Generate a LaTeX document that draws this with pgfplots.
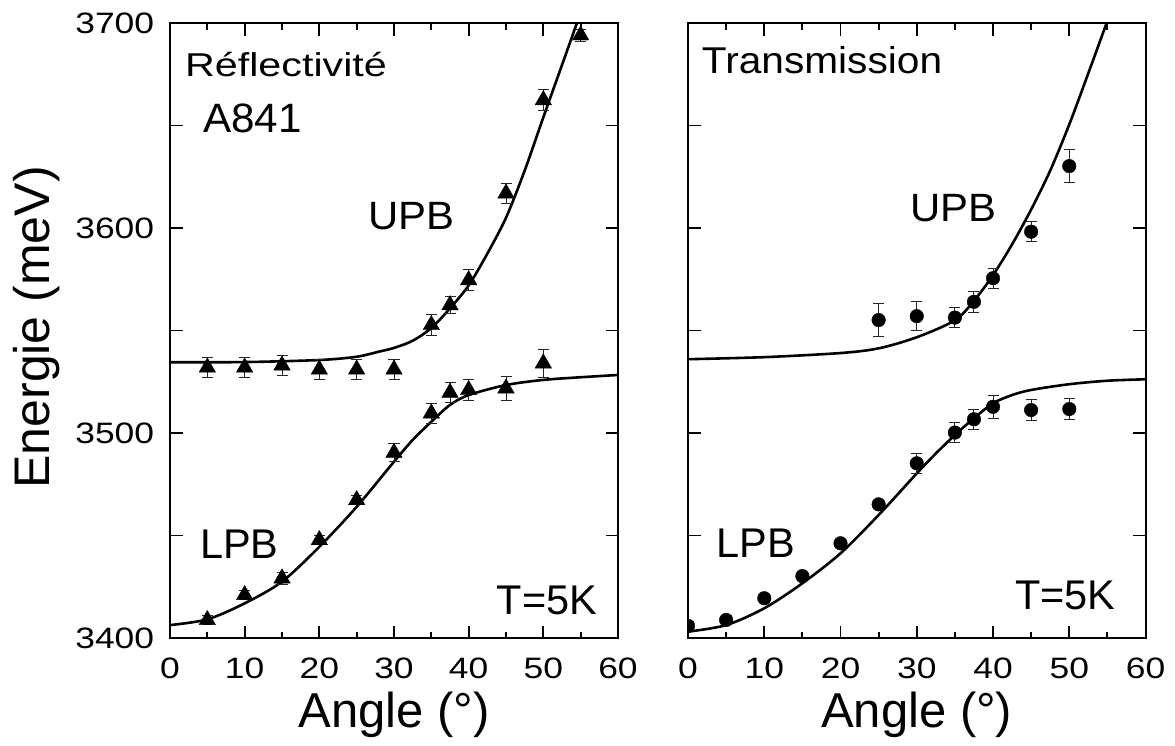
\documentclass[border=0pt]{standalone}
\usepackage{graphicx}
\usepackage{fontspec}
\setmainfont{Liberation Sans}
\usepackage{pgfplots}
\usepackage{pgfplotstable}
\pgfplotsset{compat=1.18}

\newcommand{\tl}[1]{\scalebox{1.2}[1]{#1}}
\newcommand{\fs}[1]{\fontsize{#1}{#1}\selectfont}

% Left panel (Reflectivite): data points
\pgfplotstableread{
x y e
5 3532 5
10 3532 5
15 3533 5
20 3531 5
25 3531 5
30 3531 5
35 3552.7 5
37.5 3562.4 4
40 3574.6 5
45 3616.9 5
50 3662.4 5
55 3694 3
}\LUPB
\pgfplotstableread{
x y e
5 3408.8 2
10 3421 2
15 3429.1 3
20 3447.8 2
25 3467.3 2
30 3490.4 4.5
35 3509.6 5
37.5 3519.7 5
40 3521 5
45 3521.8 6
50 3534 7
}\LLPB
% Left panel fitted curves
\pgfplotstableread{
x y
0 3534.5
10 3534.6
20 3535.6
25 3537.2
28 3539.7
30 3541.5
32.5 3545
35 3551.2
37.5 3560.8
40 3572
42.5 3587.5
45 3605
47.5 3628
50 3654
52.5 3679.5
54.5 3700
}\LUPBfit
\pgfplotstableread{
x y
0 3406.3
5 3409.1
10 3416.9
15 3427.5
20 3444.5
25 3464
30 3486
32.5 3496.6
35 3505.5
37.5 3513.7
40 3518.5
45 3523.4
50 3525.9
55 3527.2
60 3528.3
}\LLPBfit
% Right panel (Transmission): data points
\pgfplotstableread{
x y e
25 3555.1 8
30 3557 7
35 3556.3 5
37.5 3564 5
40 3575.5 5
45 3598.2 5
50 3630.2 8
}\RUPB
\pgfplotstableread{
x y e
0 3405.9 2
5 3408.8 2
10 3419.4 2
15 3430.2 2
20 3446.2 2
25 3465.2 2
30 3485.2 5
35 3500.2 5
37.5 3506.7 5
40 3512.8 5.5
45 3511.2 5
50 3511.7 5
}\RLPB
% Right panel fitted curves
\pgfplotstableread{
x y
0 3536
10 3537
20 3539
25 3541.3
30 3546.7
35 3555
37.5 3564.5
40 3577
42.5 3592
45 3609
47.5 3628
50 3650.5
52.5 3675.5
54.9 3700
}\RUPBfit
\pgfplotstableread{
x y
0 3403.1
5 3406.3
10 3414.5
15 3426.7
20 3441.3
25 3460
30 3480.3
32.5 3490
35 3499
37.5 3507.2
40 3514.5
42.5 3518.5
45 3521
50 3523.8
55 3525.5
60 3526.2
}\RLPBfit

\pgfplotsset{
  panel/.style={
    scale only axis,
    height=615pt,
    anchor=south west,
    xmin=0, xmax=60, ymin=3400, ymax=3700,
    xtick={0,10,...,60}, minor x tick num=1,
    ytick={3400,3450,...,3700},
    xticklabels={\tl{0},\tl{10},\tl{20},\tl{30},\tl{40},\tl{50},\tl{60}},
    tick align=inside,
    major tick length=12.5pt, minor tick length=6.5pt,
    axis line style={line width=2pt, black},
    tick style={line width=1.8pt, black},
    tick label style={font=\fs{29.5}, inner sep=0pt},
    xticklabel style={anchor=base, yshift=-40pt},
    yticklabel style={anchor=east, xshift=-15.7pt},
    xlabel={Angle (°)},
    xlabel style={at={(axis description cs:0.5,-0.1463)}, anchor=base, inner sep=0pt, font=\fs{49}},
    clip marker paths=true,
  },
  pts/.style={only marks, black, mark options={fill=black},
    error bars/y dir=both, error bars/y explicit,
    error bars/error bar style={line width=0.9pt, black!85},
    error bars/error mark options={rotate=90, mark size=5.5pt, line width=0.9pt, black!85}},
  fit/.style={black, line width=2.6pt, smooth, no marks},
}

\begin{document}
\begin{tikzpicture}
\path[use as bounding box] (0pt,0pt) rectangle (1175pt,745pt);

\begin{axis}[panel, at={(170pt,107pt)}, width=448pt,
  yticklabels={\tl{3400},{},\tl{3500},{},\tl{3600},{},\tl{3700}},
  ylabel={Energie (meV)},
  ylabel style={at={(axis description cs:-0.2679,0.505)}, anchor=base, rotate=0, inner sep=0pt, font=\fs{50}},
]
\addplot[fit] table[x=x,y=y] {\LUPBfit};
\addplot[fit] table[x=x,y=y] {\LLPBfit};
\addplot[pts, mark=triangle*, mark size=9.5pt] table[x=x,y=y,y error=e] {\LUPB};
\addplot[pts, mark=triangle*, mark size=9.5pt] table[x=x,y=y,y error=e] {\LLPB};
\node[anchor=base west, inner sep=0pt, font=\fs{33}] at (axis cs:2.0,3673.7) {\scalebox{1.25}[1]{Réflectivité}};
\node[anchor=base west, inner sep=0pt, font=\fs{41}] at (axis cs:4.42,3646.5) {\scalebox{1.03}[1]{A841}};
\node[anchor=base west, inner sep=0pt, font=\fs{39.5}] at (axis cs:26.56,3599.4) {\scalebox{1.06}[1]{UPB}};
\node[anchor=base west, inner sep=0pt, font=\fs{41.5}] at (axis cs:4.02,3438.9) {LPB};
\node[anchor=base west, inner sep=0pt, font=\fs{41.5}] at (axis cs:43.75,3411.6) {T=5K};
\end{axis}

\begin{axis}[panel, at={(688pt,107pt)}, width=457.5pt,
  yticklabels={},
]
\addplot[fit] table[x=x,y=y] {\RUPBfit};
\addplot[fit] table[x=x,y=y] {\RLPBfit};
\addplot[pts, mark=*, mark size=6.8pt] table[x=x,y=y,y error=e] {\RUPB};
\addplot[pts, mark=*, mark size=6.8pt] table[x=x,y=y,y error=e] {\RLPB};
\node[anchor=base west, inner sep=0pt, font=\fs{37.3}] at (axis cs:1.8,3675.5) {\scalebox{1.09}[1]{Transmission}};
\node[anchor=base west, inner sep=0pt, font=\fs{39.5}] at (axis cs:29.11,3603.1) {\scalebox{1.06}[1]{UPB}};
\node[anchor=base west, inner sep=0pt, font=\fs{41.5}] at (axis cs:3.76,3439.4) {LPB};
\node[anchor=base west, inner sep=0pt, font=\fs{41.5}] at (axis cs:42.89,3413.7) {T=5K};
\end{axis}
\end{tikzpicture}
\end{document}
